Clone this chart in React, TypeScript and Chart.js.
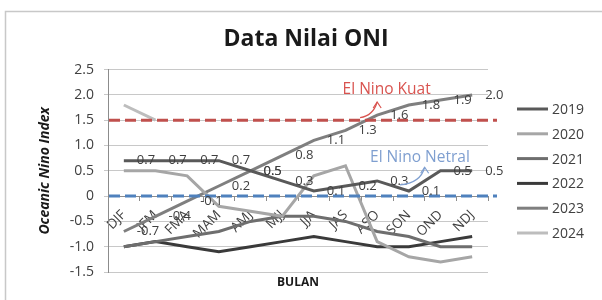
import React, { useEffect, useRef } from "react";
import { Chart, registerables } from "chart.js";

Chart.register(...registerables);

const categories = ["DJF", "JFM", "FMA", "MAM", "AMJ", "MJJ", "JJA", "JAS", "ASO", "SON", "OND", "NDJ"];
const seriesNames = ["2019", "2020", "2021", "2022", "2023", "2024"];
const values2019 = [0.7, 0.7, 0.7, 0.7, 0.5, 0.3, 0.1, 0.2, 0.3, 0.1, 0.5, 0.5];
const values2020 = [0.5, 0.5, 0.4, -0.2, -0.3, -0.4, 0.4, 0.6, -0.9, -1.2, -1.3, -1.2];
const values2021 = [-1.0, -0.9, -0.8, -0.7, -0.5, -0.4, -0.4, -0.5, -0.7, -0.8, -1.0, -1.0];
const values2022 = [-1.0, -0.9, -1.0, -1.1, -1.0, -0.9, -0.8, -0.9, -1.0, -1.0, -0.9, -0.8];
const values2023 = [-0.7, -0.4, -0.1, 0.2, 0.5, 0.8, 1.1, 1.3, 1.6, 1.8, 1.9, 2.0];
const values2024 = [1.8, 1.5, null, null, null, null, null, null, null, null, null, null];
const seriesColors = ["#595959", "#a6a6a6", "#6e6e6e", "#3a3a3a", "#7f7f7f", "#bdbdbd"];
const labelledSeries = ["2019", "2023"];
const yMin = -1.5;
const yMax = 2.5;
const yStep = 0.5;
const thresholdNames = ["El Nino Kuat", "El Nino Netral"];
const thresholdValues = [1.5, 0];
const thresholdColors = ["#c0504d", "#4f81bd"];
const thresholdTextColors = ["#d9534f", "#7f9fd0"];
// annotation anchors in data space: [text x index, text y value, arrow start idx, start val, tip idx, tip val]
const annotationAnchors = [
  [8.3, 2.1, 7.46, 1.55, 8.0, 1.86],
  [9.35, 0.77, 8.72, 0.22, 9.5, 0.57],
];

const FONT = "'Open Sans', 'DejaVu Sans', sans-serif";

const framePlugin = {
  id: "frame",
  beforeDraw(chart: any) {
    const { ctx } = chart;
    ctx.save();
    ctx.fillStyle = "#ffffff";
    ctx.fillRect(0, 0, chart.width, chart.height);
    ctx.strokeStyle = "#c8c8c8";
    ctx.lineWidth = 1.5;
    ctx.strokeRect(5.5, 11.5, chart.width + 20, chart.height + 20);
    ctx.restore();
  },
};

const overlayPlugin = {
  id: "overlay",
  afterDatasetsDraw(chart: any) {
    const { ctx, chartArea } = chart;
    const xs = chart.scales.x;
    const ys = chart.scales.y;
    ctx.save();
    thresholdValues.forEach((v, i) => {
      const y = ys.getPixelForValue(v);
      ctx.beginPath();
      ctx.setLineDash([11, 5]);
      ctx.strokeStyle = thresholdColors[i];
      ctx.lineWidth = 3;
      ctx.moveTo(chartArea.left + 1, y);
      ctx.lineTo(chartArea.right + 9, y);
      ctx.stroke();
    });
    ctx.setLineDash([]);
    ctx.font = `13px ${FONT}`;
    ctx.fillStyle = "#404040";
    ctx.textAlign = "left";
    ctx.textBaseline = "middle";
    chart.data.datasets.forEach((ds: any, di: number) => {
      if (!labelledSeries.includes(ds.label)) return;
      const meta = chart.getDatasetMeta(di);
      meta.data.forEach((pt: any, i: number) => {
        const v = ds.data[i];
        if (v === null || v === undefined) return;
        ctx.fillText(v.toFixed(1), pt.x + 13, pt.y);
      });
    });
    annotationAnchors.forEach((a, i) => {
      const tx = xs.getPixelForValue(a[0]);
      const ty = ys.getPixelForValue(a[1]);
      ctx.font = `15.5px ${FONT}`;
      ctx.fillStyle = thresholdTextColors[i];
      ctx.textAlign = "center";
      ctx.textBaseline = "middle";
      ctx.fillText(thresholdNames[i], tx, ty);
      const sx = xs.getPixelForValue(a[2]);
      const sy = ys.getPixelForValue(a[3]);
      const ex = xs.getPixelForValue(a[4]);
      const ey = ys.getPixelForValue(a[5]);
      ctx.strokeStyle = thresholdTextColors[i];
      ctx.lineWidth = 1.2;
      ctx.beginPath();
      ctx.moveTo(sx, sy);
      ctx.quadraticCurveTo(ex - 4, sy - 2, ex, ey);
      ctx.stroke();
      ctx.beginPath();
      ctx.moveTo(ex - 4, ey + 6);
      ctx.lineTo(ex, ey);
      ctx.lineTo(ex + 4, ey + 6);
      ctx.stroke();
    });
    ctx.restore();
  },
  afterDraw(chart: any) {
    const { ctx, chartArea } = chart;
    ctx.save();
    const x0 = chartArea.right + 29;
    const yTop = 109;
    const step = 24.8;
    ctx.font = `14px ${FONT}`;
    ctx.textAlign = "left";
    ctx.textBaseline = "middle";
    chart.data.datasets.forEach((ds: any, i: number) => {
      const y = yTop + i * step;
      ctx.strokeStyle = ds.borderColor;
      ctx.lineWidth = 3;
      ctx.beginPath();
      ctx.moveTo(x0, y);
      ctx.lineTo(x0 + 31, y);
      ctx.stroke();
      ctx.fillStyle = "#404040";
      ctx.fillText(ds.label, x0 + 35, y + 1);
    });
    ctx.restore();
  },
};

export default function App() {
  const ref = useRef<HTMLCanvasElement>(null);
  useEffect(() => {
    document.body.style.margin = "0";
    const seriesValues = [values2019, values2020, values2021, values2022, values2023, values2024];
    const chart = new Chart(ref.current as HTMLCanvasElement, {
      type: "line",
      data: {
        labels: categories,
        datasets: seriesNames.map((name, i) => ({
          label: name,
          data: seriesValues[i],
          borderColor: seriesColors[i],
          backgroundColor: seriesColors[i],
          borderWidth: 3,
          pointRadius: 0,
          tension: 0,
          spanGaps: false,
        })),
      },
      options: {
        responsive: false,
        animation: false,
        layout: { padding: { left: 10, right: 0, top: 0, bottom: 0 } },
        plugins: {
          legend: { display: false },
          tooltip: { enabled: false },
          title: {
            display: true,
            text: "Data Nilai ONI",
            color: "#1a1a1a",
            font: { family: FONT, size: 23, weight: "bold" },
            padding: { top: 26, bottom: 16 },
          },
        },
        scales: {
          x: {
            type: "category",
            offset: true,
            grid: { display: false },
            border: { display: false },
            ticks: { display: false },
            title: {
              display: true,
              text: "BULAN",
              color: "#1a1a1a",
              font: { family: FONT, size: 12, weight: "bold" },
              padding: { top: 0, bottom: 10 },
            },
            afterFit: (s: any) => {
              s.height = 28;
            },
          },
          x2: {
            type: "category",
            axis: "x",
            labels: categories,
            position: { y: 0 },
            offset: true,
            grid: {
              display: true,
              drawOnChartArea: false,
              drawTicks: true,
              tickLength: 4,
              offset: true,
              color: "#8c8c8c",
            },
            border: { display: true, color: "#8c8c8c" },
            ticks: {
              autoSkip: false,
              minRotation: 45,
              maxRotation: 45,
              padding: 7,
              color: "#404040",
              font: { family: FONT, size: 13.5 },
            },
          },
          y: {
            min: yMin,
            max: yMax,
            ticks: {
              stepSize: yStep,
              color: "#404040",
              padding: 10,
              font: { family: FONT, size: 14 },
            },
            grid: { color: "#c8c8c8", lineWidth: 1, tickLength: 4 },
            border: { color: "#8c8c8c" },
            title: {
              display: true,
              text: "Oceanic Nino Index",
              color: "#1a1a1a",
              font: { family: FONT, size: 14, weight: "bold", style: "italic" },
              padding: { top: 27, bottom: 0 },
            },
            afterFit: (s: any) => {
              s.width = 98;
            },
          },
          yRight: {
            type: "linear",
            position: "right",
            display: true,
            grid: { display: false },
            border: { display: false },
            ticks: { display: false },
            afterFit: (s: any) => {
              s.width = 114;
            },
          },
        },
      } as any,
      plugins: [framePlugin, overlayPlugin],
    });
    return () => chart.destroy();
  }, []);
  return (
    <div style={{ width: 602, height: 300 }}>
      <canvas ref={ref} width={602} height={300} style={{ display: "block" }} />
    </div>
  );
}
